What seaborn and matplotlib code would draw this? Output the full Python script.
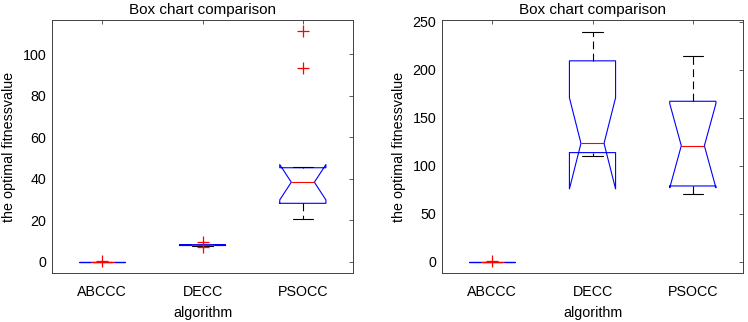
import pandas as pd
import numpy as np
import matplotlib.pyplot as plt
import seaborn as sns

# --- datos (10 corridas por algoritmo) ---
algorithms = ["ABCCC", "DECC", "PSOCC"]

left_abccc = [0, 0, 0, 0, 0, 0, 0, 0, 0, 0.3]
left_decc = [7.3, 7.6, 7.9, 8.0, 8.1, 8.2, 8.3, 8.35, 8.4, 9.8]
left_psocc = [20.7, 25.0, 28.0, 29.0, 37.0, 39.8, 45.0, 45.5, 93.3, 111.0]

right_abccc = [0, 0, 0, 0, 0, 0, 0, 0, 0, 1.2]
right_decc = [110.4, 112.0, 113.0, 115.5, 118.0, 128.6, 208.5, 209.5, 225.0, 239.6]
right_psocc = [70.2, 74.0, 78.5, 80.0, 115.0, 126.6, 166.0, 167.5, 190.0, 214.6]

left_ticks = [0, 20, 40, 60, 80, 100]
right_ticks = [0, 50, 100, 150, 200, 250]


def to_long(groups):
    rows = []
    for name, vals in zip(algorithms, groups):
        for v in vals:
            rows.append({"algorithm": name, "value": v})
    return pd.DataFrame(rows)


df_left = to_long([left_abccc, left_decc, left_psocc])
df_right = to_long([right_abccc, right_decc, right_psocc])

sns.set_style("white")
plt.rcParams["font.family"] = ["Liberation Sans", "DejaVu Sans"]
plt.rcParams["font.size"] = 10.3

fig = plt.figure(figsize=(7.48, 3.22), dpi=100)
ax1 = fig.add_axes([52 / 748, 49 / 322, 301 / 748, 253 / 322])
ax2 = fig.add_axes([442 / 748, 49 / 322, 301 / 748, 253 / 322])

box_kws = dict(
    x="algorithm", y="value", order=algorithms, width=0.46, fill=False,
    notch=True, whis=1.5, linewidth=0.8, capwidths=0.2,
    boxprops={"color": "#0000ff"},
    medianprops={"color": "#ff0000"},
    whiskerprops={"color": "black", "linestyle": (0, (7, 4))},
    capprops={"color": "black"},
    flierprops={"marker": "+", "markeredgecolor": "#ff0000",
                "markerfacecolor": "#ff0000", "markersize": 8,
                "markeredgewidth": 0.9},
)

for ax, df, lim, ticks in [(ax1, df_left, (-5.3, 116.5), left_ticks),
                           (ax2, df_right, (-11.8, 251.8), right_ticks)]:
    sns.boxplot(data=df, ax=ax, **box_kws)
    ax.set_xlim(-0.5, 2.5)
    ax.set_ylim(*lim)
    ax.set_yticks(ticks)
    ax.set_title("Box chart comparison", fontsize=11, pad=4.5, color="black")
    ax.set_xlabel("algorithm", fontsize=10.3, labelpad=5, color="black")
    ax.set_ylabel("the optimal fitnessvalue", fontsize=10.3, labelpad=5, color="black")
    ax.tick_params(direction="in", top=True, right=True, length=3,
                   width=0.6, color="#404040", labelsize=10.3, pad=4,
                   labelcolor="black")
    ax.tick_params(axis="x", pad=9)
    for s in ax.spines.values():
        s.set_color("#404040")
        s.set_linewidth(0.7)

fig.savefig("out.png", dpi=100)
